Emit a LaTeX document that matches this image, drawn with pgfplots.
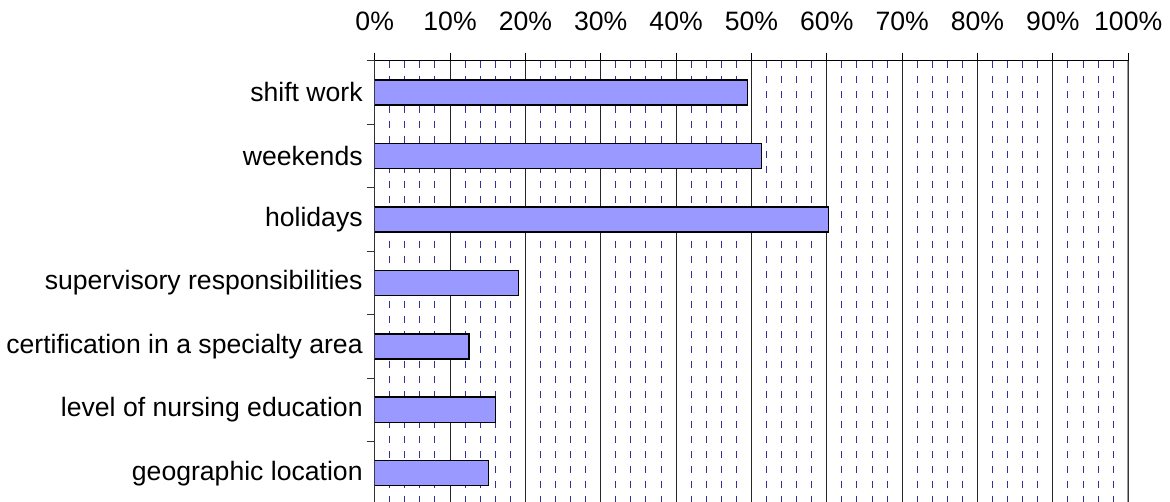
\documentclass[border=0pt]{standalone}
\usepackage{pgfplots}
\pgfplotsset{compat=1.18}
\usepackage{fontspec}
\setmainfont{Liberation Sans}

\definecolor{barfill}{RGB}{153,153,255}
\definecolor{minorgrid}{RGB}{50,50,150}

\begin{document}
\begin{tikzpicture}
\path[use as bounding box, clip] (0,0) rectangle (585pt,-251pt);
\begin{axis}[
  at={(187.35pt,-30.25pt)}, anchor=north west,
  scale only axis, width=376.75pt, height=222.25pt,
  xmin=0, xmax=100, ymin=-0.5, ymax=6.5, y dir=reverse,
  xbar, bar width=12.5pt,
  axis x line*=top, axis y line*=left,
  x axis line style={black, line width=0.6pt, -},
  y axis line style={black!80, line width=0.6pt, -},
  tick align=outside, major tick length=4pt, minor tick length=4pt,
  xtick={0,10,...,100},
  xticklabels={0\%,10\%,20\%,30\%,40\%,50\%,60\%,70\%,80\%,90\%,100\%},
  minor xtick={2,4,6,8,12,14,16,18,22,24,26,28,32,34,36,38,42,44,46,48,
    52,54,56,58,62,64,66,68,72,74,76,78,82,84,86,88,92,94,96,98},
  minor x tick style={draw=none},
  xmajorgrids, xminorgrids,
  major x grid style={black!85, line width=0.5pt},
  minor x grid style={minorgrid, line width=0.5pt, dash pattern=on 3.5pt off 4pt},
  major x tick style={black, line width=0.5pt},
  ytick={0,...,6},
  yticklabels={shift work, weekends, holidays, supervisory responsibilities,
    certification in a specialty area, level of nursing education, geographic location},
  major y tick style={draw=none},
  minor ytick={-0.5,0.5,...,6.5},
  minor y tick style={black!80, line width=0.5pt},
  tick label style={font=\fontsize{13.3pt}{15pt}\selectfont},
  xticklabel style={yshift=7.5pt},
  yticklabel style={xshift=1.5pt},
]
\addplot[fill=barfill, draw=black, line width=0.75pt] coordinates {
  (49.5,0) (51.3,1) (60.2,2) (19.1,3) (12.5,4) (16.0,5) (15.1,6)
};
% right edge of the plot area
\draw[black!40, line width=1.1pt] (axis cs:100,-0.5) -- (axis cs:100,6.5);
\end{axis}
\end{tikzpicture}
\end{document}
